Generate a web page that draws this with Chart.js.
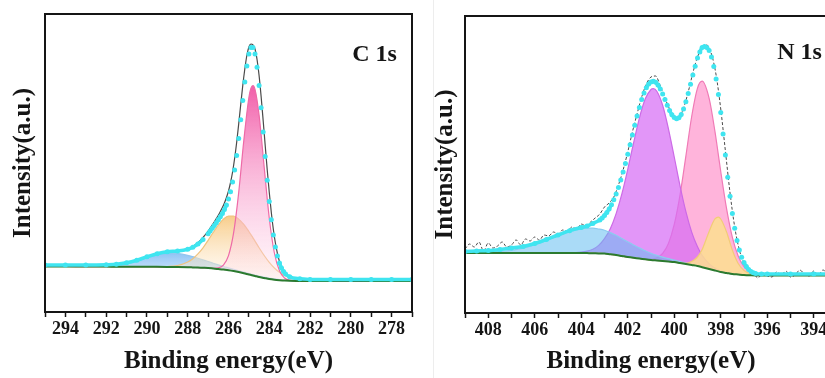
<!DOCTYPE html>
<html>
<head>
<meta charset="utf-8">
<script src="https://cdn.jsdelivr.net/npm/chart.js@4.4.0/dist/chart.umd.min.js"></script>
<style>
  html, body { margin: 0; padding: 0; background: #fff; }
  body { width: 825px; height: 378px; overflow: hidden; position: relative; }
  #wrapC { position: absolute; left: 0; top: 0; width: 420px; height: 378px; }
  #wrapN { position: absolute; left: 420px; top: 0; width: 425px; height: 378px; }
  #divider { position: absolute; left: 433px; top: 0; width: 1px; height: 378px; background: #ededed; }
</style>
</head>
<body>
<div id="wrapC"><canvas id="c1s" width="420" height="378"></canvas></div>
<div id="divider"></div>
<div id="wrapN"><canvas id="n1s" width="425" height="378"></canvas></div>
<script>
// ---- C 1s : fitted components (binding energy in eV, intensity in a.u.) ----
const cEnergy = [295, 294, 293, 292, 291.5, 291, 290.5, 290, 289.5, 289, 288.5, 288, 287.75, 287.5, 287.25, 287, 286.75, 286.5, 286.25, 286, 285.75, 285.5, 285.25, 285, 284.9, 284.8, 284.7, 284.5, 284.25, 284, 283.75, 283.5, 283.25, 283, 282.5, 282, 281, 280, 279, 278, 277];
const cBackground = [45.5, 45.5, 45.4, 45.4, 45.3, 45.3, 45.3, 45.3, 45.2, 45.1, 45, 44.8, 44.6, 44.4, 44.2, 44, 43.5, 43, 42.4, 41.8, 41, 40, 38.8, 37.5, 37, 36.5, 36, 35, 34, 33, 32.3, 31.8, 31.4, 31.2, 31.1, 31, 31, 31, 31, 31, 31];
const cPeakBlue = [45.5, 45.5, 45.5, 45.9, 46.5, 48.1, 50.7, 54.2, 57.3, 59, 58.6, 56.7, 55.3, 53.7, 52.1, 50.5, 48.8, 47.1, 45.5, 44.1, 42.7, 41.2, 39.8, 38.5, 38, 37.5, 37, 36, 35, 34, 33.1, 32.4, 31.8, 31.4, 31.1, 31, 31, 31, 31, 31, 31];
const cPeakOrange = [45.5, 45.5, 45.4, 45.4, 45.3, 45.3, 45.3, 45.3, 45.3, 45.5, 46.5, 50, 53.3, 58.1, 64.2, 71.7, 79.5, 87, 92.8, 96, 96, 92.9, 87.6, 80.5, 77.4, 74.1, 70.9, 64.2, 56.5, 49.6, 44, 39.7, 36.5, 34.3, 32.1, 31.3, 31, 31, 31, 31, 31];
const cPeakPink = [45.5, 45.5, 45.4, 45.4, 45.3, 45.3, 45.3, 45.3, 45.2, 45.1, 45, 44.8, 44.6, 44.4, 44.2, 44, 43.7, 44.1, 46.9, 56.4, 79.1, 119.4, 171.3, 214.5, 223.7, 226.5, 222.7, 196.9, 144.9, 93.8, 59, 41.2, 34, 31.8, 31.1, 31, 31, 31, 31, 31, 31];

// ---- C 1s : envelope (cyan points) and measured data ----
const cFitEnergy = [295, 294, 293, 292, 291.5, 291, 290.5, 290, 289.5, 289, 288.5, 288, 287.75, 287.5, 287.25,
  287.0, 286.9, 286.8, 286.7, 286.6, 286.5, 286.4, 286.3, 286.2, 286.1, 286.0, 285.9, 285.8, 285.7, 285.6, 285.5, 285.4, 285.3, 285.2, 285.1,
  285.0, 284.9, 284.8, 284.7, 284.6, 284.5, 284.4, 284.3, 284.2, 284.1, 284.0, 283.9, 283.8, 283.7, 283.6, 283.5, 283.4, 283.3, 283.2,
  283.0, 282.5, 282, 281, 280, 279, 278, 277];
const cEnvelope = [47, 47, 47, 47.3, 47.8, 49.3, 51.8, 55.2, 58.3, 60.3, 61, 62.8, 64.8, 68, 72.5,
  78.2, 80.9, 83.7, 86.4, 89.2, 92.2, 95.3, 98.6, 102.4, 107, 112.9, 120.3, 129.9, 142, 156.6, 173.5, 192.2, 211.5, 229.9, 246,
  258, 264.6, 264.5, 258, 244.7, 226.4, 204.2, 180, 155.5, 131.8, 110.4, 92.2, 77, 65.1, 55.9, 49.1, 44.1, 40.5, 38,
  35.2, 33.2, 32.6, 32.4, 32.4, 32.4, 32.4, 32.4];
const cRaw = [46, 46, 46.2, 46.8, 47.5, 49.3, 52, 55.5, 58.6, 60.5, 61.2, 63, 65.5, 69.2, 74.5,
  81, 84, 87, 90, 93.4, 96.8, 100.5, 104.5, 109, 114.5, 121, 129.5, 140, 153.5, 169.5, 188, 207.5, 226.5, 243, 256.5,
  265, 268, 267, 263, 252.5, 236.5, 215.5, 191.5, 166.5, 142, 119.5, 99.5, 82.5, 69, 58.5, 50.5, 45, 41, 38.3,
  35, 32.3, 31.6, 31.5, 31.4, 31.5, 31.5, 31.5];

// ---- N 1s : fitted components ----
const nEnergy = [409, 408, 407, 406.5, 406, 405.5, 405, 404.5, 404, 403.75, 403.5, 403.25, 403, 402.75, 402.5, 402.25, 402, 401.75, 401.5, 401.25, 401, 400.9, 400.75, 400.5, 400.25, 400, 399.75, 399.5, 399.25, 399, 398.8, 398.5, 398.25, 398.1, 398, 397.75, 397.5, 397.25, 397, 396.75, 396.5, 396.25, 396, 395, 394, 393];
const nBackground = [60, 60, 60, 60, 60, 60, 60, 60, 60, 59.9, 59.8, 59.6, 59.5, 58.7, 58, 57, 56, 55.2, 54.5, 53.7, 53, 52.8, 52.5, 52, 51.5, 51, 50, 49, 48, 47, 45.8, 44, 42.5, 41.6, 41, 40, 39, 38.5, 38, 37.7, 37.5, 37.5, 37.5, 37.5, 37.5, 37.5];
const nPeakBlue = [60.1, 60.6, 62.6, 64.8, 68.1, 72.4, 77, 81.3, 84.2, 84.8, 84.8, 84, 82.8, 80.4, 77.7, 74.5, 71.2, 68, 65.1, 62.2, 59.7, 58.8, 57.6, 55.8, 54.3, 53, 51.4, 50, 48.6, 47.4, 46.1, 44.2, 42.6, 41.7, 41, 40, 39, 38.5, 38, 37.7, 37.5, 37.5, 37.5, 37.5, 37.5, 37.5];
const nPeakPurple = [60, 60, 60, 60, 60, 60, 60, 60.1, 60.8, 61.8, 63.8, 67.6, 74.3, 84.3, 99.4, 119.3, 143.6, 170, 194.9, 213.9, 223.5, 224.3, 221.7, 207.7, 184.2, 156, 127, 101.3, 80.9, 66.2, 57.6, 49.2, 44.9, 43.1, 42, 40.4, 39.2, 38.5, 38, 37.7, 37.5, 37.5, 37.5, 37.5, 37.5, 37.5];
const nPeakPink = [60, 60, 60, 60, 60, 60, 60, 60, 60, 59.9, 59.8, 59.6, 59.5, 58.7, 58, 57, 56, 55.2, 54.5, 54, 53.9, 54.2, 55.2, 59.5, 69.5, 88.5, 118.2, 156.9, 196.5, 224.9, 231.8, 214.6, 181.6, 157.7, 141.5, 104.4, 75.6, 57, 46.3, 41, 38.6, 37.8, 37.5, 37.5, 37.5, 37.5];
const nPeakYellow = [60, 60, 60, 60, 60, 60, 60, 60, 60, 59.9, 59.8, 59.6, 59.5, 58.7, 58, 57, 56, 55.2, 54.5, 53.7, 53, 52.8, 52.5, 52, 51.5, 51, 50.2, 49.6, 51.5, 56, 63.5, 81.6, 94.1, 95.9, 94, 81, 62.8, 49.5, 42.5, 39.5, 38, 37.6, 37.5, 37.5, 37.5, 37.5];

// ---- N 1s : envelope and measured data ----
const nFitEnergy = [409, 408.5, 408, 407.5, 407, 406.5, 406, 405.5, 405, 404.5, 404, 403.75, 403.5,
  403.2, 403.1, 403.0, 402.9, 402.8, 402.7, 402.6, 402.5, 402.4, 402.3, 402.2, 402.1, 402.0, 401.9, 401.8, 401.7, 401.6, 401.5, 401.4, 401.3, 401.2, 401.1,
  401.0, 400.9, 400.8, 400.7, 400.6, 400.5, 400.4, 400.3, 400.2, 400.1, 400.0, 399.9, 399.8, 399.7, 399.6, 399.5, 399.4, 399.3, 399.2, 399.1,
  399.0, 398.9, 398.8, 398.7, 398.6, 398.5, 398.4, 398.3, 398.2, 398.1, 398.0, 397.9, 397.8, 397.7, 397.6, 397.5, 397.4, 397.3, 397.2, 397.1,
  397.0, 396.9, 396.8, 396.7, 396.6, 396.5, 396.25, 396, 395, 394, 393];
const nEnvelope = [61.5, 62, 62.5, 63.6, 65, 66.5, 69.5, 73.5, 78, 82.3, 85.5, 87, 89.5,
  93, 95, 97.6, 100.5, 104.1, 108.2, 113.3, 119.1, 125.6, 132.9, 140.9, 149.6, 158.8, 168.3, 178, 187.7, 196.9, 205.6, 213.4, 220, 225.3, 229.1,
  231.1, 231.7, 230.7, 228, 224, 219, 213.4, 207.8, 202.5, 198.3, 195.5, 194.3, 195.3, 198.4, 204, 211.2, 219.6, 228.7, 237.9, 246.8,
  255, 261, 265.6, 266.6, 265.4, 262.6, 256, 246.5, 234, 218.5, 200.6, 179, 158, 135.8, 116.8, 99.4, 84.8, 72.5, 63.1, 55.7,
  50.5, 46.5, 43.6, 41.5, 40.2, 39.4, 39, 39, 39, 39, 39];
const nRawEnergy = [409.0, 408.8, 408.6, 408.4, 408.2, 408.0, 407.8, 407.6, 407.4, 407.2, 407.0, 406.8, 406.6, 406.4, 406.2, 406.0, 405.8, 405.6, 405.4, 405.2,
  405.0, 404.8, 404.6, 404.4, 404.2, 404.0, 403.8, 403.6, 403.4, 403.2, 403.0, 402.8, 402.6, 402.4, 402.2, 402.0, 401.8, 401.6, 401.4, 401.2,
  401.0, 400.8, 400.6, 400.4, 400.2, 400.0, 399.8, 399.6, 399.4, 399.2, 399.0, 398.8, 398.6, 398.4, 398.2, 398.0, 397.8, 397.6, 397.4, 397.2,
  397.0, 396.8, 396.6, 396.4, 396.2, 396.0, 395.8, 395.6, 395.4, 395.2, 395.0, 394.8, 394.6, 394.4, 394.2, 394.0, 393.8, 393.6, 393.4, 393.2, 393.0];
const nRaw = [64, 69, 66, 71, 62, 70, 65, 67, 71, 66, 68, 73, 68, 74, 72, 76, 73, 78, 77, 81,
  79, 83, 82, 86, 84, 89, 87, 91, 95, 99, 106, 110, 116, 128, 143, 161, 181, 199, 216, 229,
  236, 237, 227, 215, 204, 197, 196, 205, 221, 240, 256, 266, 268, 259, 238, 204, 162, 120, 86, 63,
  50, 43, 40, 35, 40, 37, 36, 41, 38, 42, 36, 38, 43, 39, 37, 42, 38, 43, 39, 37, 40];

const FONT = "'Liberation Serif', 'Times New Roman', serif";
const CYAN = '#3fe5f0';
const INK = '#151515';

function pts(xs, ys) {
  return xs.map((x, i) => ({ x: x, y: ys[i] }));
}

// vertical gradient from the top of a peak down to the baseline
function peakGradient(topCol, bottomCol, values, base) {
  return function (ctx) {
    const chart = ctx.chart;
    if (!chart.chartArea) return topCol;
    const ys = chart.scales.y;
    const top = ys.getPixelForValue(Math.max(...values));
    const bottom = ys.getPixelForValue(Math.min(...base));
    const g = chart.ctx.createLinearGradient(0, top, 0, bottom);
    g.addColorStop(0, topCol);
    g.addColorStop(1, bottomCol);
    return g;
  };
}

const framePlugin = {
  id: 'frame',
  afterDraw(chart, args, opts) {
    const { ctx, chartArea: a } = chart;
    ctx.save();
    ctx.strokeStyle = INK;
    ctx.lineWidth = 2;
    ctx.strokeRect(a.left, a.top, a.right - a.left, a.bottom - a.top);
    ctx.fillStyle = INK;
    ctx.font = 'bold 24px ' + FONT;
    ctx.textAlign = 'center';
    ctx.textBaseline = 'middle';
    ctx.fillText(opts.label, a.right - 37.5, a.top + opts.labelDy);
    ctx.restore();
  }
};

function envelopeSet(xs, ys) {
  return {
    data: pts(xs, ys), order: 0,
    borderColor: CYAN, borderWidth: 3.5,
    cubicInterpolationMode: 'monotone',
    pointRadius: 2.5, pointBackgroundColor: CYAN, pointBorderWidth: 0,
    segment: {
      borderColor: ctx => Math.abs(ctx.p1.y - ctx.p0.y) > 5 ? 'rgba(0,0,0,0)' : CYAN
    }
  };
}

function lineSet(xs, ys, color, width, order, extra) {
  return Object.assign({
    data: pts(xs, ys), order: order,
    borderColor: color, borderWidth: width,
    cubicInterpolationMode: 'monotone',
    pointRadius: 0, fill: false
  }, extra || {});
}

function buildOptions(xMin, xMax, yMax, xAxisH, padTop, yTitlePad, label, labelDy) {
  return {
    responsive: false,
    animation: false,
    events: [],
    devicePixelRatio: 1,
    layout: { padding: { left: 0, right: 8, top: padTop, bottom: 0 } },
    plugins: {
      legend: { display: false },
      tooltip: { enabled: false },
      frame: { label: label, labelDy: labelDy }
    },
    scales: {
      x: {
        type: 'linear', min: xMin, max: xMax, reverse: true,
        border: { display: false },
        grid: { drawOnChartArea: false, drawTicks: true, tickLength: 5, tickColor: INK, tickWidth: 1.5 },
        ticks: {
          stepSize: 1, autoSkip: false, maxRotation: 0, padding: 2, color: INK,
          font: { family: FONT, size: 18, weight: 'bold' },
          callback: v => Math.round(v) % 2 === 0 ? String(Math.round(v)) : ''
        },
        title: {
          display: true, text: 'Binding energy(eV)', color: INK,
          font: { family: FONT, size: 25, weight: 'bold' },
          padding: { top: 0, bottom: 1 }
        },
        afterFit: s => { s.height = xAxisH; }
      },
      y: {
        min: 0, max: yMax,
        border: { display: false },
        grid: { display: false },
        ticks: { display: false },
        title: {
          display: true, text: 'Intensity(a.u.)', color: INK,
          font: { family: FONT, size: 25, weight: 'bold' },
          padding: { top: yTitlePad, bottom: 0 }
        },
        afterFit: s => { s.width = 45; }
      }
    }
  };
}

// C 1s panel
new Chart(document.getElementById('c1s').getContext('2d'), {
  type: 'line',
  data: {
    datasets: [
      envelopeSet(cFitEnergy, cEnvelope),
      lineSet(cFitEnergy, cRaw, '#4a4a4a', 1.2, 1),
      lineSet(cEnergy, cBackground, '#2b7a2f', 2, 2),
      lineSet(cEnergy, cPeakPink, '#ee6aa7', 1.2, 3, {
        fill: 2, backgroundColor: peakGradient('rgba(240,80,162,0.92)', 'rgba(255,225,240,0.3)', cPeakPink, cBackground)
      }),
      lineSet(cEnergy, cPeakOrange, '#f0c27e', 1.2, 4, {
        fill: 2, backgroundColor: peakGradient('rgba(246,196,118,0.85)', 'rgba(255,243,225,0.35)', cPeakOrange, cBackground)
      }),
      lineSet(cEnergy, cPeakBlue, '#92c6f0', 1.2, 5, {
        fill: 2, backgroundColor: peakGradient('rgba(115,180,242,0.8)', 'rgba(190,222,250,0.55)', cPeakBlue, cBackground)
      })
    ]
  },
  options: buildOptions(277, 295, 298, 66, 14, 9, 'C 1s', 41),
  plugins: [framePlugin]
});

// N 1s panel
new Chart(document.getElementById('n1s').getContext('2d'), {
  type: 'line',
  data: {
    datasets: [
      envelopeSet(nFitEnergy, nEnvelope),
      lineSet(nRawEnergy, nRaw, '#4a4a4a', 1, 1, { borderDash: [3, 2] }),
      lineSet(nEnergy, nBackground, '#2b7a2f', 2, 2),
      lineSet(nEnergy, nPeakYellow, '#f2cc78', 1.2, 3, { fill: 2, backgroundColor: 'rgba(253,224,145,0.85)' }),
      lineSet(nEnergy, nPeakBlue, '#8ccbf0', 1.2, 4, { fill: 2, backgroundColor: 'rgba(100,190,240,0.55)' }),
      lineSet(nEnergy, nPeakPurple, '#cc6ae6', 1.2, 5, { fill: 2, backgroundColor: 'rgba(215,110,245,0.72)' }),
      lineSet(nEnergy, nPeakPink, '#f07ab6', 1.2, 6, { fill: 2, backgroundColor: 'rgba(255,130,195,0.6)' })
    ]
  },
  options: buildOptions(393, 409, 297, 65, 16, 11, 'N 1s', 37),
  plugins: [framePlugin]
});
</script>
</body>
</html>
